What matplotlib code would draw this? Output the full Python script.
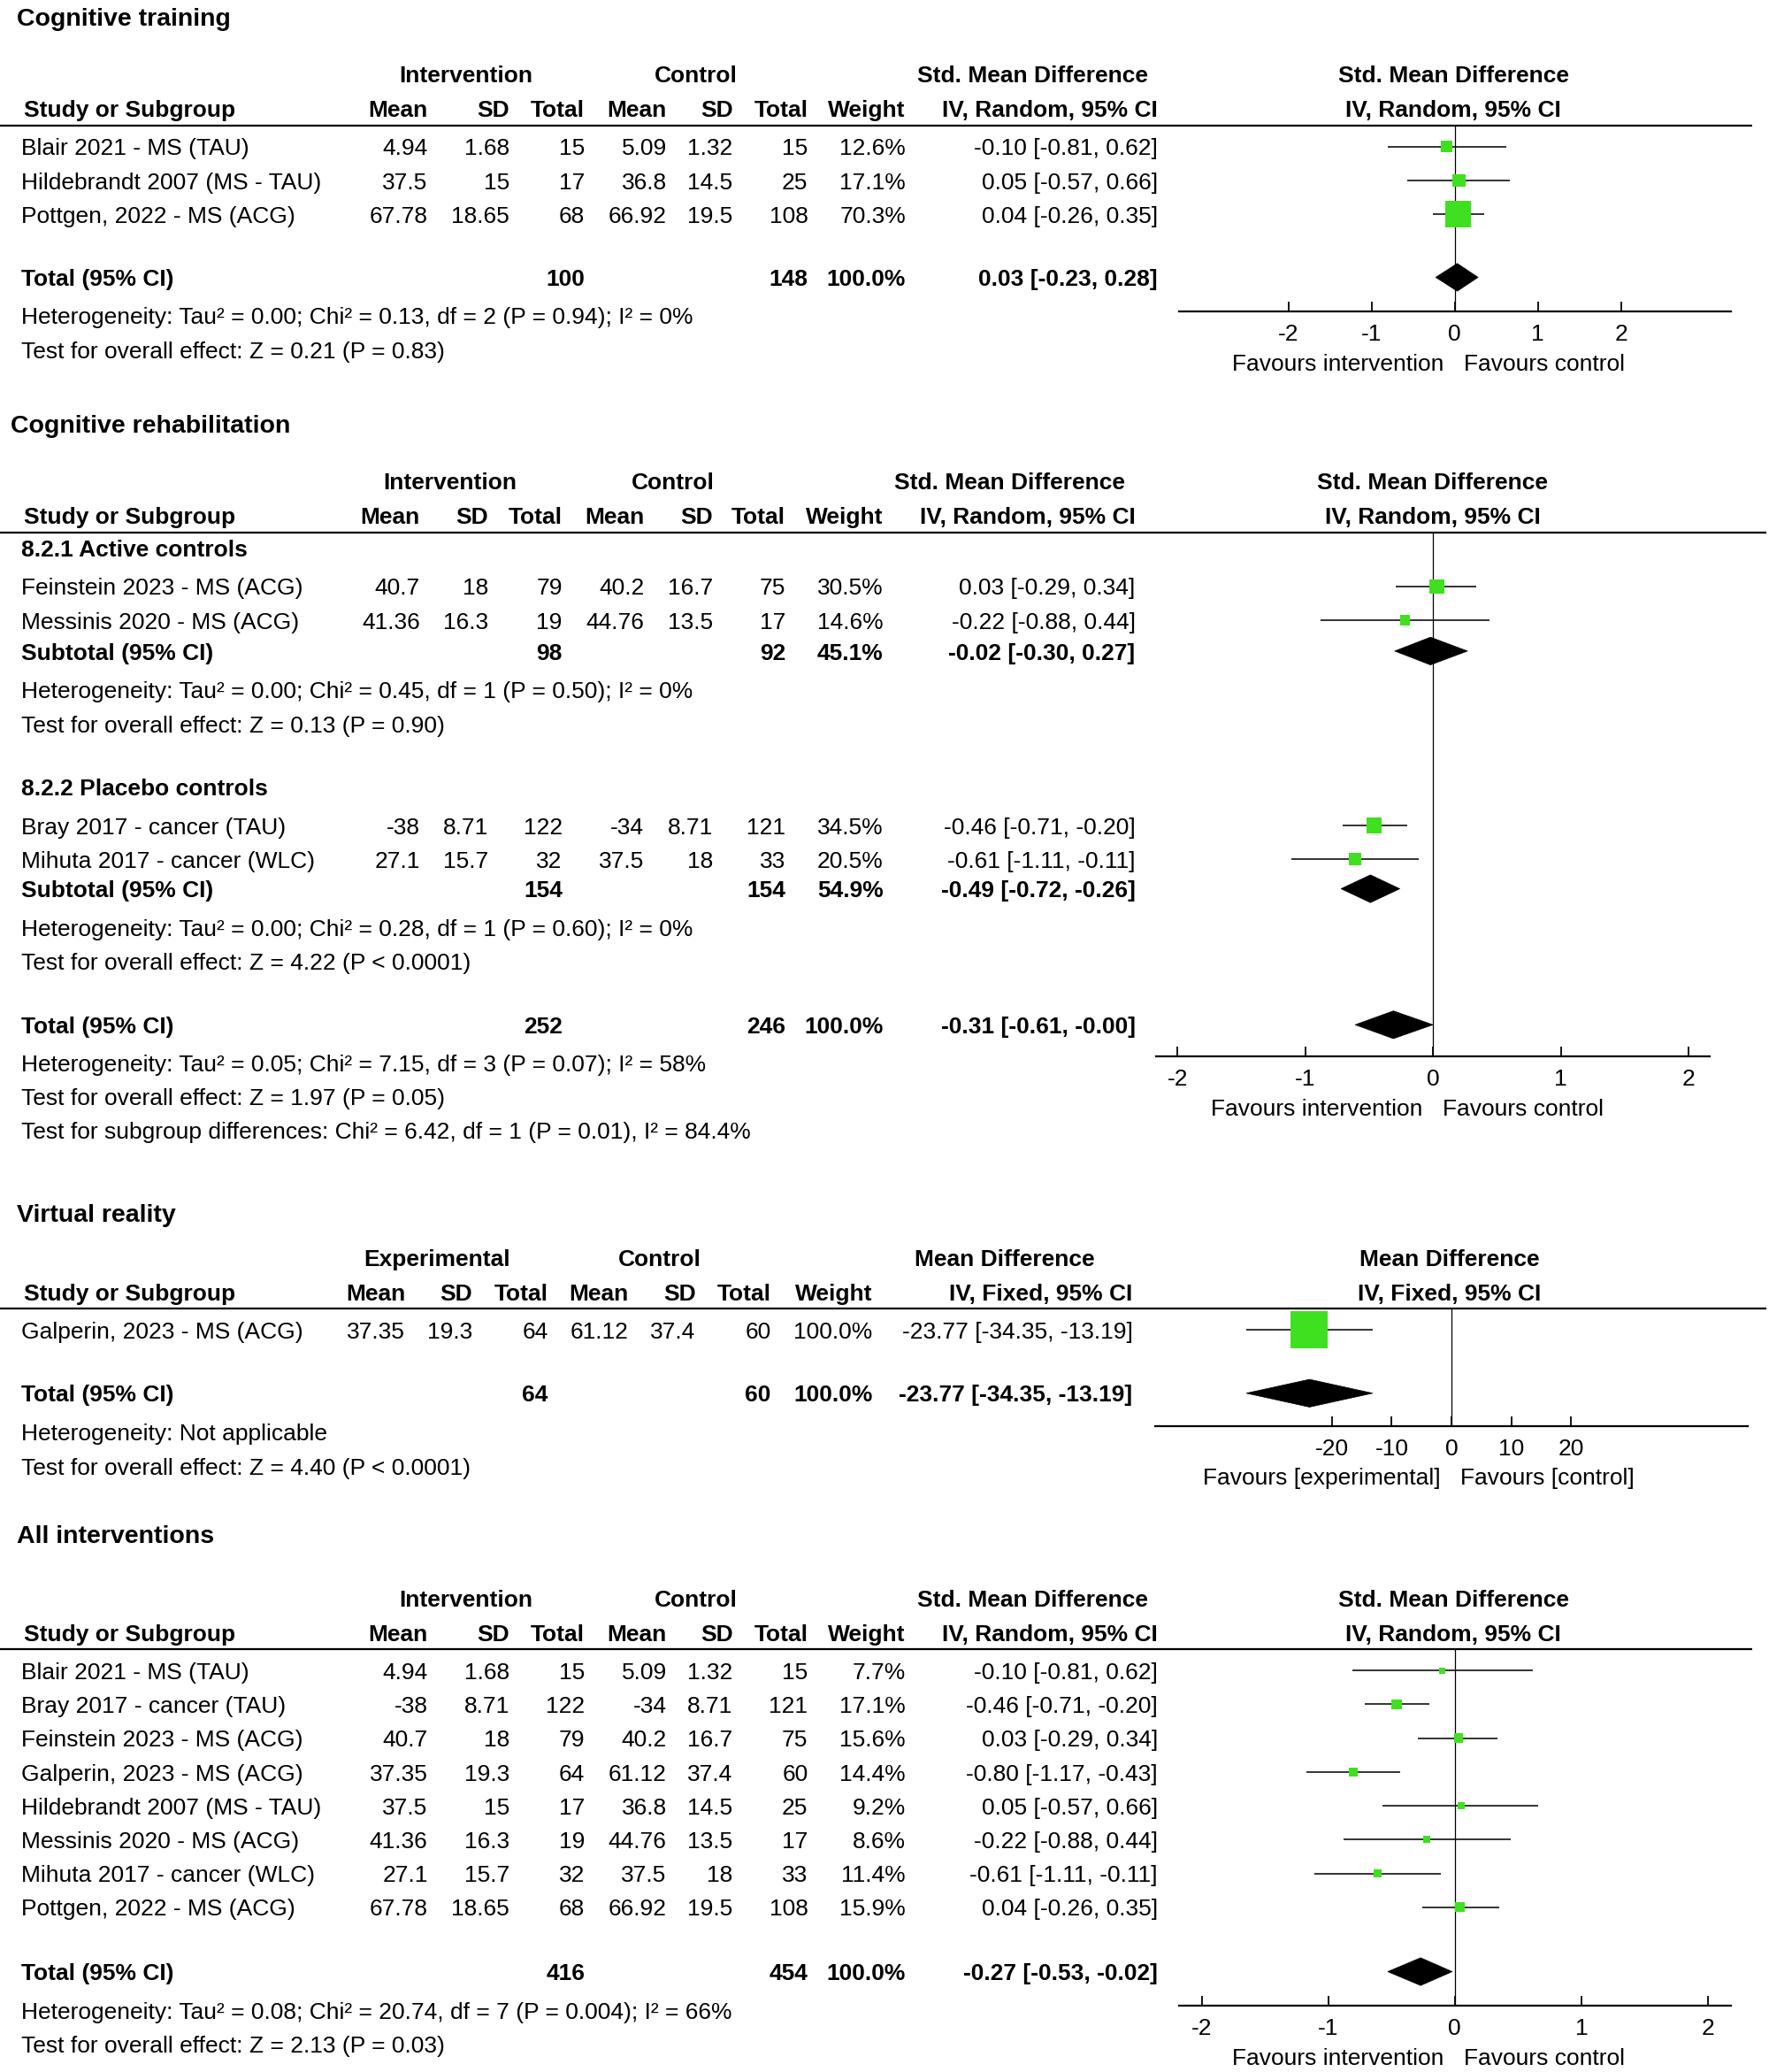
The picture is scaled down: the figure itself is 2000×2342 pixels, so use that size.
import numpy as np
import matplotlib.pyplot as plt
from matplotlib.patches import Polygon

plt.rcParams['font.family'] = ['Liberation Sans', 'DejaVu Sans']
plt.rcParams['axes.unicode_minus'] = False

# ---------------- data ----------------
# Cognitive training
ct_study = ['Blair 2021 - MS (TAU)', 'Hildebrandt 2007 (MS - TAU)', 'Pottgen, 2022 - MS (ACG)']
ct_int_mean = [4.94, 37.5, 67.78]
ct_int_sd = [1.68, 15, 18.65]
ct_int_n = [15, 17, 68]
ct_ctl_mean = [5.09, 36.8, 66.92]
ct_ctl_sd = [1.32, 14.5, 19.5]
ct_ctl_n = [15, 25, 108]
ct_weight = [12.6, 17.1, 70.3]
ct_est = [-0.10, 0.05, 0.04]
ct_lo = [-0.81, -0.57, -0.26]
ct_hi = [0.62, 0.66, 0.35]
ct_total = (100, 148, 100.0, 0.03, -0.23, 0.28)
ct_het = 'Heterogeneity: Tau² = 0.00; Chi² = 0.13, df = 2 (P = 0.94); I² = 0%'
ct_test = 'Test for overall effect: Z = 0.21 (P = 0.83)'

# Cognitive rehabilitation - 8.2.1 Active controls
ca_study = ['Feinstein 2023 - MS (ACG)', 'Messinis 2020 - MS (ACG)']
ca_int_mean = [40.7, 41.36]
ca_int_sd = [18, 16.3]
ca_int_n = [79, 19]
ca_ctl_mean = [40.2, 44.76]
ca_ctl_sd = [16.7, 13.5]
ca_ctl_n = [75, 17]
ca_weight = [30.5, 14.6]
ca_est = [0.03, -0.22]
ca_lo = [-0.29, -0.88]
ca_hi = [0.34, 0.44]
ca_sub = (98, 92, 45.1, -0.02, -0.30, 0.27)
ca_het = 'Heterogeneity: Tau² = 0.00; Chi² = 0.45, df = 1 (P = 0.50); I² = 0%'
ca_test = 'Test for overall effect: Z = 0.13 (P = 0.90)'

# Cognitive rehabilitation - 8.2.2 Placebo controls
cp_study = ['Bray 2017 - cancer (TAU)', 'Mihuta 2017 - cancer (WLC)']
cp_int_mean = [-38, 27.1]
cp_int_sd = [8.71, 15.7]
cp_int_n = [122, 32]
cp_ctl_mean = [-34, 37.5]
cp_ctl_sd = [8.71, 18]
cp_ctl_n = [121, 33]
cp_weight = [34.5, 20.5]
cp_est = [-0.46, -0.61]
cp_lo = [-0.71, -1.11]
cp_hi = [-0.20, -0.11]
cp_sub = (154, 154, 54.9, -0.49, -0.72, -0.26)
cp_het = 'Heterogeneity: Tau² = 0.00; Chi² = 0.28, df = 1 (P = 0.60); I² = 0%'
cp_test = 'Test for overall effect: Z = 4.22 (P < 0.0001)'

cr_total = (252, 246, 100.0, -0.31, -0.61, -0.0)
cr_het = 'Heterogeneity: Tau² = 0.05; Chi² = 7.15, df = 3 (P = 0.07); I² = 58%'
cr_test = 'Test for overall effect: Z = 1.97 (P = 0.05)'
cr_sub = 'Test for subgroup differences: Chi² = 6.42, df = 1 (P = 0.01), I² = 84.4%'

# Virtual reality
vr_study = ['Galperin, 2023 - MS (ACG)']
vr_int_mean = [37.35]
vr_int_sd = [19.3]
vr_int_n = [64]
vr_ctl_mean = [61.12]
vr_ctl_sd = [37.4]
vr_ctl_n = [60]
vr_weight = [100.0]
vr_est = [-23.77]
vr_lo = [-34.35]
vr_hi = [-13.19]
vr_total = (64, 60, 100.0, -23.77, -34.35, -13.19)
vr_het = 'Heterogeneity: Not applicable'
vr_test = 'Test for overall effect: Z = 4.40 (P < 0.0001)'

# All interventions
al_study = ['Blair 2021 - MS (TAU)', 'Bray 2017 - cancer (TAU)', 'Feinstein 2023 - MS (ACG)',
            'Galperin, 2023 - MS (ACG)', 'Hildebrandt 2007 (MS - TAU)', 'Messinis 2020 - MS (ACG)',
            'Mihuta 2017 - cancer (WLC)', 'Pottgen, 2022 - MS (ACG)']
al_int_mean = [4.94, -38, 40.7, 37.35, 37.5, 41.36, 27.1, 67.78]
al_int_sd = [1.68, 8.71, 18, 19.3, 15, 16.3, 15.7, 18.65]
al_int_n = [15, 122, 79, 64, 17, 19, 32, 68]
al_ctl_mean = [5.09, -34, 40.2, 61.12, 36.8, 44.76, 37.5, 66.92]
al_ctl_sd = [1.32, 8.71, 16.7, 37.4, 14.5, 13.5, 18, 19.5]
al_ctl_n = [15, 121, 75, 60, 25, 17, 33, 108]
al_weight = [7.7, 17.1, 15.6, 14.4, 9.2, 8.6, 11.4, 15.9]
al_est = [-0.10, -0.46, 0.03, -0.80, 0.05, -0.22, -0.61, 0.04]
al_lo = [-0.81, -0.71, -0.29, -1.17, -0.57, -0.88, -1.11, -0.26]
al_hi = [0.62, -0.20, 0.34, -0.43, 0.66, 0.44, -0.11, 0.35]
al_total = (416, 454, 100.0, -0.27, -0.53, -0.02)
al_het = 'Heterogeneity: Tau² = 0.08; Chi² = 20.74, df = 7 (P = 0.004); I² = 66%'
al_test = 'Test for overall effect: Z = 2.13 (P = 0.03)'

# ---------------- layout ----------------
W, H = 1340, 1569          # reference layout grid
PX = 2000 / W              # output pixels per layout unit
FS = 19
GREEN = '#3fe01f'

fig = plt.figure(figsize=(20, 23.42), dpi=100)
tx = fig.add_axes([0, 0, 1, 1])
tx.set_xlim(0, W)
tx.set_ylim(H, 0)
tx.axis('off')


def txt(x, y, s, ha='left', bold=False, size=FS):
    tx.text(x, y + 1.8, s, ha=ha, va='center', fontsize=size,
            fontweight='bold' if bold else 'normal', color='black')


def ci_str(e, l, h):
    return f'{e:.2f} [{l:.2f}, {h:.2f}]'


def header(title, ty, y1, y2, yline, xline, cols, grp, names, plot_c, method, title_x=13):
    txt(title_x, ty, title, bold=True, size=20.5)
    txt(grp[0], y1, names[0], ha='center', bold=True)
    txt(grp[1], y1, 'Control', ha='center', bold=True)
    txt(grp[2], y1, names[1], ha='center', bold=True)
    txt(plot_c, y1, names[1], ha='center', bold=True)
    txt(18, y2, 'Study or Subgroup', bold=True)
    for c, lab in zip(cols, ['Mean', 'SD', 'Total', 'Mean', 'SD', 'Total', 'Weight', method]):
        txt(c, y2, lab, ha='right', bold=True)
    txt(plot_c, y2, method, ha='center', bold=True)
    tx.plot([0, xline], [yline, yline], color='black', lw=1.6, solid_capstyle='butt')


def study_rows(cols, ys, names, im, isd, inn, cm, csd, cn, w, e, lo, hi):
    for i, y in enumerate(ys):
        txt(16, y, names[i])
        vals = [f'{im[i]:g}', f'{isd[i]:g}', f'{inn[i]}', f'{cm[i]:g}', f'{csd[i]:g}',
                f'{cn[i]}', f'{w[i]:.1f}%', ci_str(e[i], lo[i], hi[i])]
        for c, v in zip(cols, vals):
            txt(c, y, v, ha='right')


def total_row(cols, y, label, tot):
    txt(16, y, label, bold=True)
    txt(cols[2], y, f'{tot[0]}', ha='right', bold=True)
    txt(cols[5], y, f'{tot[1]}', ha='right', bold=True)
    txt(cols[6], y, f'{tot[2]:.1f}%', ha='right', bold=True)
    txt(cols[7], y, ci_str(*tot[3:]), ha='right', bold=True)


def forest_axes(x0, x1, ytop, ybot, lim, ticks, fav):
    ax = fig.add_axes([x0 / W, 1 - ybot / H, (x1 - x0) / W, (ybot - ytop) / H])
    ax.set_xlim(-lim, lim)
    ax.set_ylim(ybot, ytop)
    ax.patch.set_alpha(0)
    for s in ['top', 'left', 'right']:
        ax.spines[s].set_visible(False)
    ax.spines['bottom'].set_linewidth(1.6)
    ax.set_yticks([])
    ax.set_xticks(ticks)
    ax.set_xticklabels([f'{t:g}' for t in ticks])
    ax.tick_params(axis='x', direction='in', length=8, width=1.3, labelsize=FS, pad=10)
    ax.axvline(0, color='black', lw=0.9, zorder=1)
    zero = (x0 + x1) / 2
    txt(zero - 8, ybot + 38, fav[0], ha='right')
    txt(zero + 7, ybot + 38, fav[1], ha='left')
    return ax


def squares(ax, ys, e, lo, hi, w, k):
    ax.hlines(ys, lo, hi, color='#111111', lw=1.2, zorder=2)
    side = k * np.sqrt(np.array(w)) * PX * 72 / 100
    ax.scatter(e, ys, s=side ** 2, marker='s', color=GREEN, linewidths=0, zorder=3, clip_on=False)


def diamond(ax, y, tot, h=10.5):
    e, lo, hi = tot[3:]
    ax.add_patch(Polygon([[lo, y], [e, y - h], [hi, y], [e, y + h]], closed=True,
                         facecolor='black', edgecolor='black', lw=0.5, zorder=3))


FAV = ('Favours intervention', 'Favours control')
STEP = 25.6

# ---- panel 1: Cognitive training
cols1 = [324, 386, 443, 505, 555, 612, 686, 877]
header('Cognitive training', 13, 56, 82, 95, 1327, cols1, (353, 527, 782),
       ('Intervention', 'Std. Mean Difference'), 1101, 'IV, Random, 95% CI')
ys = 111 + STEP * np.arange(len(ct_study))
study_rows(cols1, ys, ct_study, ct_int_mean, ct_int_sd, ct_int_n, ct_ctl_mean, ct_ctl_sd,
           ct_ctl_n, ct_weight, ct_est, ct_lo, ct_hi)
total_row(cols1, 210, 'Total (95% CI)', ct_total)
txt(16, 239, ct_het)
txt(16, 265, ct_test)
ax1 = forest_axes(893, 1311, 95, 236, 3.32, [-2, -1, 0, 1, 2], FAV)
squares(ax1, ys, ct_est, ct_lo, ct_hi, ct_weight, 2.35)
diamond(ax1, 210, ct_total)

# ---- panel 2: Cognitive rehabilitation
cols2 = [318, 370, 426, 488, 540, 595, 669, 860]
header('Cognitive rehabilitation', 321, 364, 390, 403, 1338, cols2, (341, 510, 765),
       ('Intervention', 'Std. Mean Difference'), 1085, 'IV, Random, 95% CI', title_x=8)
ax2 = forest_axes(876, 1295, 403, 800, 2.165, [-2, -1, 0, 1, 2], FAV)

txt(16, 415, '8.2.1 Active controls', bold=True)
ys = 444 + STEP * np.arange(len(ca_study))
study_rows(cols2, ys, ca_study, ca_int_mean, ca_int_sd, ca_int_n, ca_ctl_mean, ca_ctl_sd,
           ca_ctl_n, ca_weight, ca_est, ca_lo, ca_hi)
squares(ax2, ys, ca_est, ca_lo, ca_hi, ca_weight, 2.0)
total_row(cols2, 493, 'Subtotal (95% CI)', ca_sub)
diamond(ax2, 493, ca_sub)
txt(16, 522, ca_het)
txt(16, 548, ca_test)

txt(16, 596, '8.2.2 Placebo controls', bold=True)
ys = 625 + STEP * np.arange(len(cp_study))
study_rows(cols2, ys, cp_study, cp_int_mean, cp_int_sd, cp_int_n, cp_ctl_mean, cp_ctl_sd,
           cp_ctl_n, cp_weight, cp_est, cp_lo, cp_hi)
squares(ax2, ys, cp_est, cp_lo, cp_hi, cp_weight, 2.0)
total_row(cols2, 673, 'Subtotal (95% CI)', cp_sub)
diamond(ax2, 673, cp_sub)
txt(16, 702, cp_het)
txt(16, 728, cp_test)

total_row(cols2, 776, 'Total (95% CI)', cr_total)
diamond(ax2, 776, cr_total)
txt(16, 805, cr_het)
txt(16, 830, cr_test)
txt(16, 856, cr_sub)

# ---- panel 3: Virtual reality
cols3 = [307, 358, 415, 476, 527, 584, 661, 858]
header('Virtual reality', 919, 952, 978, 991, 1338, cols3, (331, 500, 761),
       ('Experimental', 'Mean Difference'), 1098, 'IV, Fixed, 95% CI')
ys = 1007 + STEP * np.arange(len(vr_study))
study_rows(cols3, ys, vr_study, vr_int_mean, vr_int_sd, vr_int_n, vr_ctl_mean, vr_ctl_sd,
           vr_ctl_n, vr_weight, vr_est, vr_lo, vr_hi)
total_row(cols3, 1055, 'Total (95% CI)', vr_total)
txt(16, 1084, vr_het)
txt(16, 1110, vr_test)
ax3 = forest_axes(875, 1324, 991, 1080, 49.6, [-20, -10, 0, 10, 20],
                  ('Favours [experimental]', 'Favours [control]'))
squares(ax3, ys, vr_est, vr_lo, vr_hi, vr_weight, 2.8)
diamond(ax3, 1055, vr_total)

# ---- panel 4: All interventions
header('All interventions', 1162, 1210, 1236, 1249, 1327, cols1, (353, 527, 782),
       ('Intervention', 'Std. Mean Difference'), 1101, 'IV, Random, 95% CI')
ys = 1265 + STEP * np.arange(len(al_study))
study_rows(cols1, ys, al_study, al_int_mean, al_int_sd, al_int_n, al_ctl_mean, al_ctl_sd,
           al_ctl_n, al_weight, al_est, al_lo, al_hi)
total_row(cols1, 1493, 'Total (95% CI)', al_total)
txt(16, 1522, al_het)
txt(16, 1548, al_test)
ax4 = forest_axes(893, 1311, 1249, 1519, 2.18, [-2, -1, 0, 1, 2], FAV)
squares(ax4, ys, al_est, al_lo, al_hi, al_weight, 1.8)
diamond(ax4, 1493, al_total)

fig.savefig('out.png', dpi=100)
